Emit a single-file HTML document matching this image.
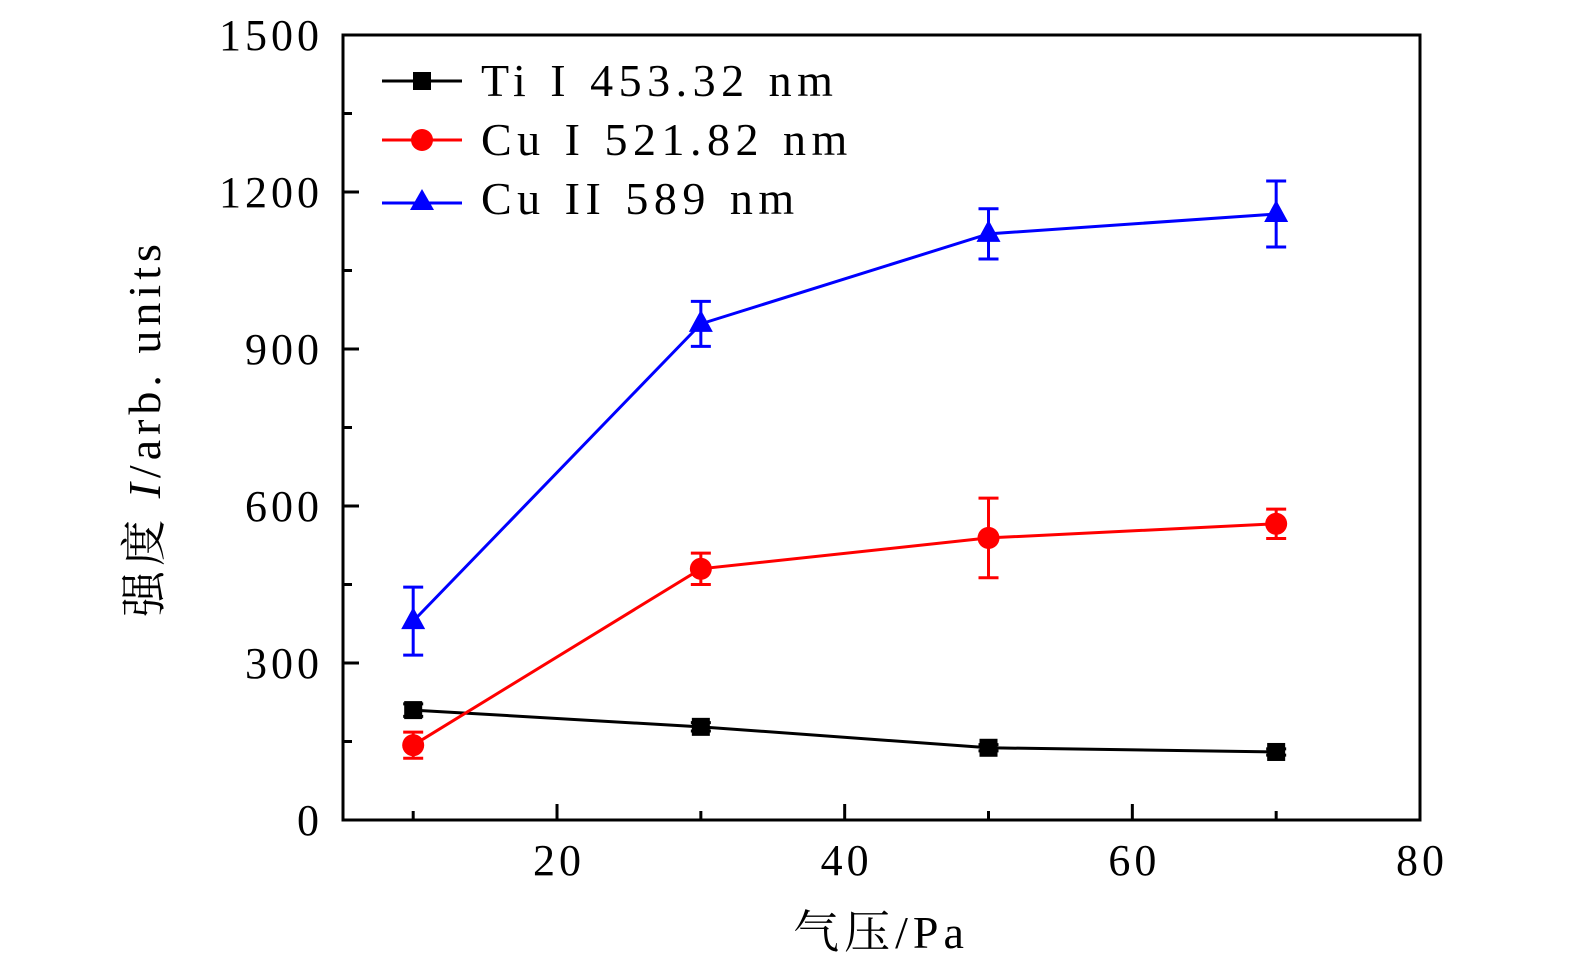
<!DOCTYPE html>
<html><head><meta charset="utf-8">
<style>
html,body{margin:0;padding:0;background:#fff;}
svg{display:block;}
text{font-family:"Liberation Serif","Noto Serif CJK SC",serif;fill:#000;}
</style></head>
<body>
<svg id="chart" width="1575" height="974" viewBox="0 0 1575 974" xmlns="http://www.w3.org/2000/svg">
  <rect x="343" y="35" width="1077" height="785" fill="none" stroke="#000" stroke-width="3"/>
  <g id="ticks"></g>
  <g id="series"></g>
  <text x="881" y="948" font-size="46" letter-spacing="5" text-anchor="middle">气压/Pa</text>
  <text transform="translate(160,428) rotate(-90)" font-size="46" letter-spacing="5" text-anchor="middle">强度 <tspan font-style="italic">I</tspan>/arb. units</text>
  <g>
    <g>
      <line x1="382" y1="81" x2="462" y2="81" stroke="#000" stroke-width="3"/>
      <rect x="413" y="72" width="18" height="18" fill="#000"/>
      <text x="481" y="96" font-size="46" letter-spacing="5.5" word-spacing="2">Ti I 453.32 nm</text>
    </g>
    <g>
      <line x1="382" y1="140" x2="462" y2="140" stroke="#f00" stroke-width="3"/>
      <circle cx="422" cy="140" r="11" fill="#f00"/>
      <text x="481" y="155" font-size="46" letter-spacing="5.5" word-spacing="2">Cu I 521.82 nm</text>
    </g>
    <g>
      <line x1="382" y1="203" x2="462" y2="203" stroke="#00f" stroke-width="3"/>
      <polygon points="422,189 410,210 434,210" fill="#00f"/>
      <text x="481" y="214" font-size="46" letter-spacing="5.5" word-spacing="2">Cu II 589 nm</text>
    </g>
  </g>
</svg>
<script>
const xValues = [10, 30, 50, 70];
const tiValues = [210, 178, 138, 130];
const tiErrors = [12, 8, 6, 6];
const cuIValues = [143, 480, 539, 566];
const cuIErrors = [25, 30, 76, 28];
const cuIIValues = [380, 948, 1120, 1158];
const cuIIErrors = [65, 43, 48, 63];
const xTickLabels = [20, 40, 60, 80];
const yTickLabels = [0, 300, 600, 900, 1200, 1500];

const NS = "http://www.w3.org/2000/svg";
const X0 = 343, X1 = 1420, Y0 = 820, Y1 = 35;
const xMin = 5.12, xMax = 80, yMin = 0, yMax = 1500;
function sx(v){ return X0 + (v - xMin) / (xMax - xMin) * (X1 - X0); }
function sy(v){ return Y0 - (v - yMin) / (yMax - yMin) * (Y0 - Y1); }
function mk(tag, attrs, parent){
  const e = document.createElementNS(NS, tag);
  for (const k in attrs) e.setAttribute(k, attrs[k]);
  parent.appendChild(e);
  return e;
}
const ticks = document.getElementById('ticks');
xTickLabels.forEach(v => {
  const l = mk('line', {x1: sx(v), x2: sx(v), y1: Y0, y2: Y0 - 16, stroke: '#000', 'stroke-width': 3}, ticks);
  
  
  const t = mk('text', {x: sx(v) + 2, y: Y0 + 55, 'font-size': 44, 'letter-spacing': 4, 'text-anchor': 'middle'}, ticks);
  t.textContent = v;
  
  
});
for (let v = 10; v < 80; v += 20) {
  const l = mk('line', {x1: sx(v), x2: sx(v), y1: Y0, y2: Y0 - 9, stroke: '#000', 'stroke-width': 3}, ticks);
  
  
}
yTickLabels.forEach(v => {
  const l = mk('line', {x1: X0, x2: X0 + 16, y1: sy(v), y2: sy(v), stroke: '#000', 'stroke-width': 3}, ticks);
  
  
  const t = mk('text', {x: X0 - 20, y: sy(v) + 15, 'font-size': 44, 'letter-spacing': 4, 'text-anchor': 'end'}, ticks);
  t.textContent = v;
  
  
});
for (let v = 150; v < 1500; v += 300) {
  const l = mk('line', {x1: X0, x2: X0 + 9, y1: sy(v), y2: sy(v), stroke: '#000', 'stroke-width': 3}, ticks);
  
  
}
const seriesG = document.getElementById('series');
function drawSeries(name, vals, errs, color, marker){
  const g = mk('g', {}, seriesG);
  
  
  const pts = xValues.map((x, i) => sx(x) + ',' + sy(vals[i])).join(' ');
  const pl = mk('polyline', {points: pts, fill: 'none', stroke: color, 'stroke-width': 3}, g);
  
  
  xValues.forEach((x, i) => {
    const cx = sx(x), cy = sy(vals[i]), top = sy(vals[i] + errs[i]), bot = sy(vals[i] - errs[i]);
    const eb = mk('path', {d: `M${cx},${top}V${bot}M${cx-10},${top}H${cx+10}M${cx-10},${bot}H${cx+10}`, stroke: color, 'stroke-width': 3, fill: 'none'}, g);
    
    
    let m;
    if (marker === 'square') m = mk('rect', {x: cx - 9, y: cy - 9, width: 18, height: 18, fill: color}, g);
    else if (marker === 'circle') m = mk('circle', {cx: cx, cy: cy, r: 11, fill: color}, g);
    else m = mk('polygon', {points: `${cx},${cy-14} ${cx-12},${cy+8} ${cx+12},${cy+8}`, fill: color}, g);
    
    
  });
}
drawSeries('ti-series', tiValues, tiErrors, '#000', 'square');
drawSeries('cu-i-series', cuIValues, cuIErrors, '#f00', 'circle');
drawSeries('cu-ii-series', cuIIValues, cuIIErrors, '#00f', 'triangle');
</script>
</body></html>
